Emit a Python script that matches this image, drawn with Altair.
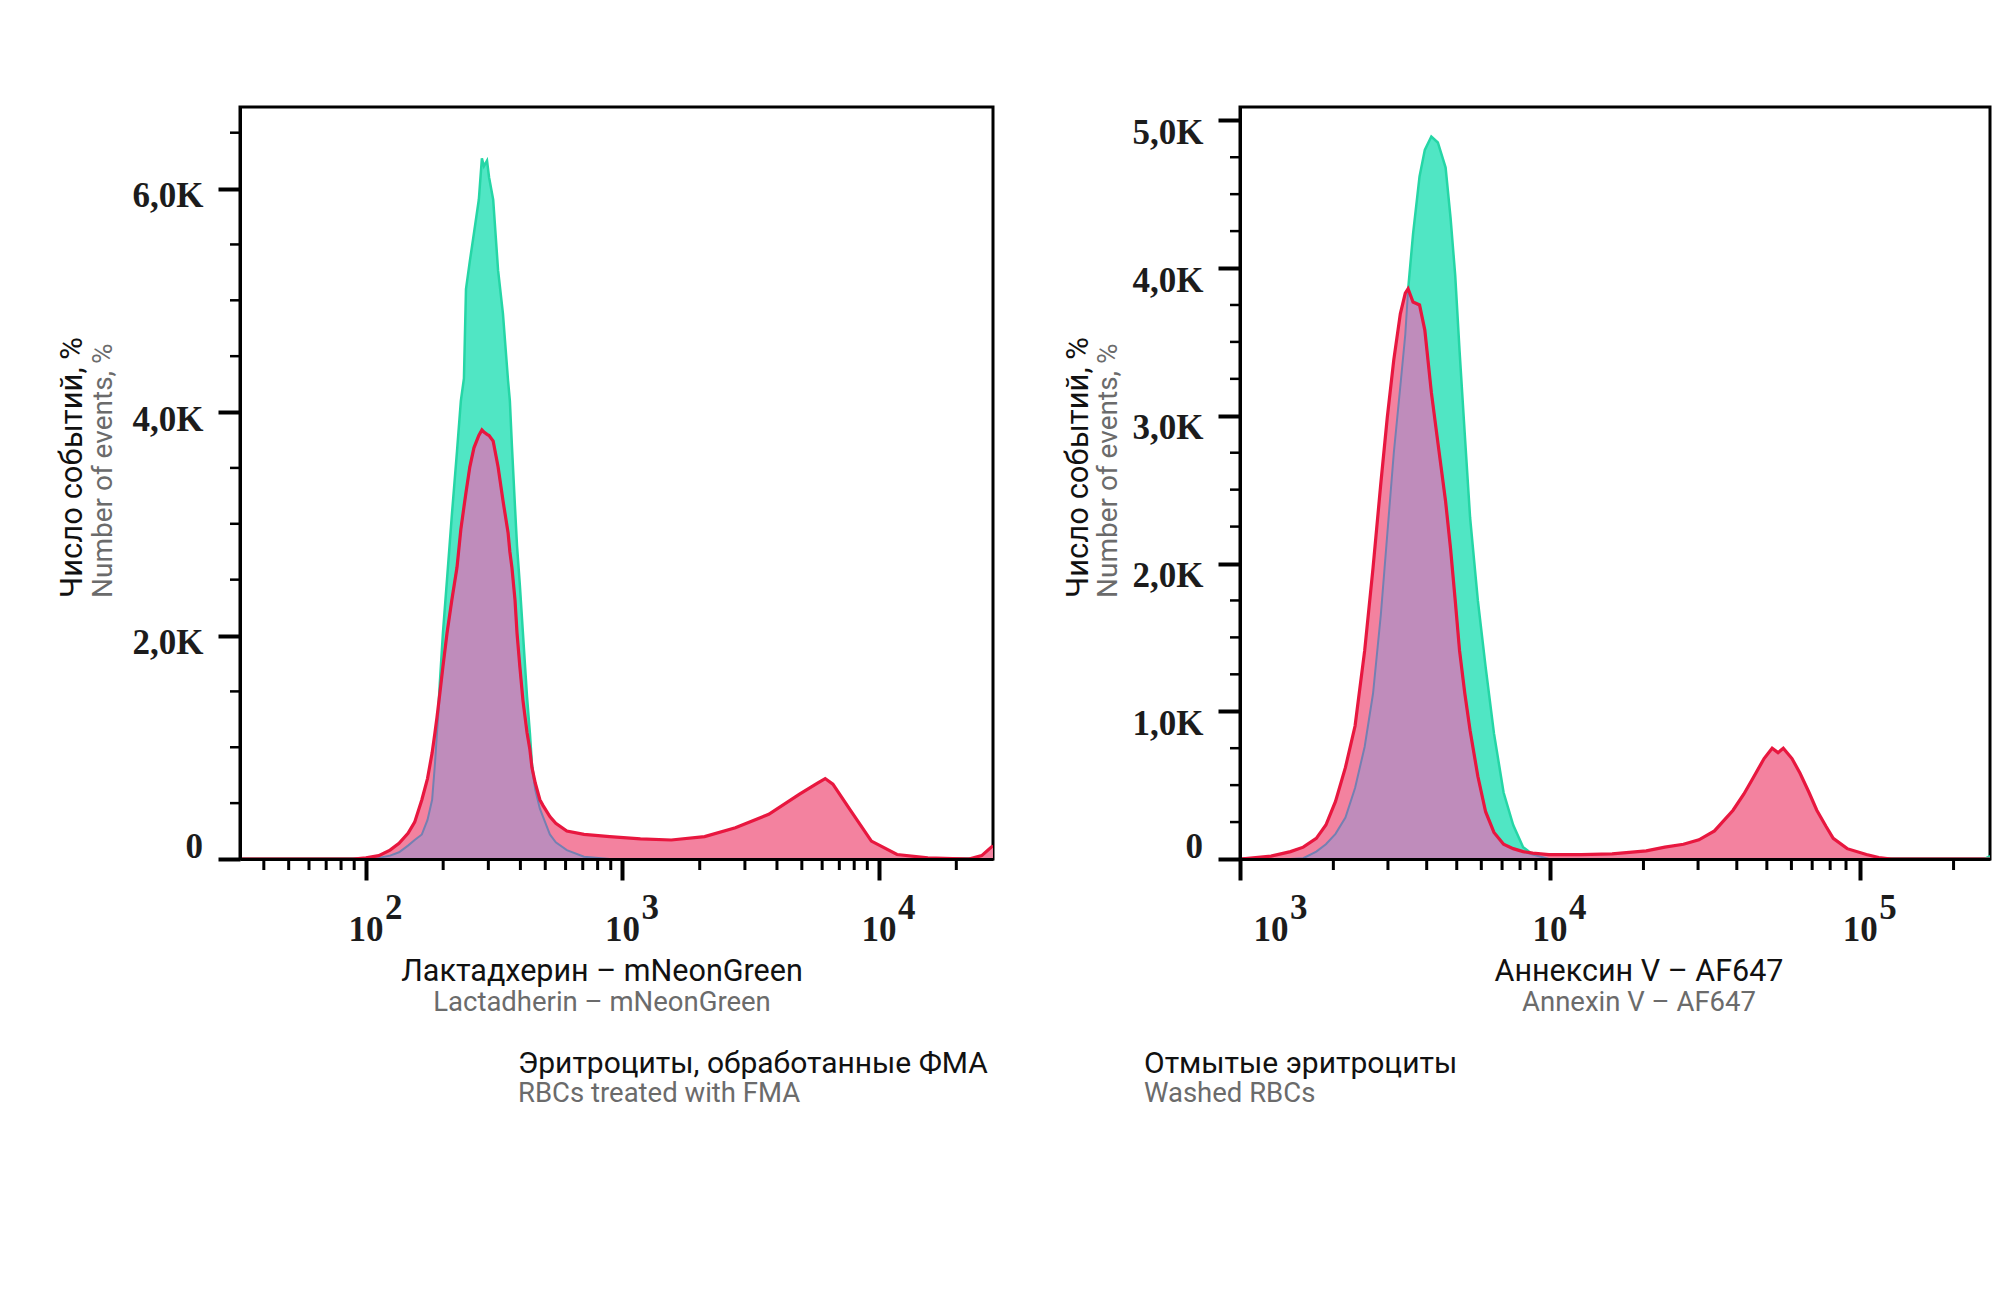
import altair as alt
import pandas as pd

# ---------------- data ----------------
# left panel: log10 of fluorescence, counts in thousands
left_logx = [1.51, 1.95, 2.00, 2.05, 2.094, 2.129, 2.164, 2.190, 2.218, 2.240, 2.258, 2.269,
             2.277, 2.288, 2.300, 2.316, 2.335, 2.355, 2.370, 2.382, 2.390, 2.405, 2.421, 2.440,
             2.452, 2.460, 2.472, 2.480, 2.496, 2.515, 2.534, 2.554, 2.561, 2.569, 2.581, 2.589,
             2.600, 2.612, 2.628, 2.639, 2.647, 2.660, 2.678, 2.690, 2.717, 2.740, 2.783, 2.85,
             2.95, 3.07, 3.19, 3.32, 3.44, 3.57, 3.69, 3.76, 3.79, 3.82, 3.89, 3.97, 4.07, 4.19,
             4.35, 4.40, 4.444]
left_green = [0, 0, 0, 0.01, 0.03, 0.06, 0.12, 0.17, 0.22, 0.35, 0.53, 0.85,
              1.13, 1.57, 2.02, 2.50, 3.08, 3.65, 4.10, 4.30, 5.10, 5.35, 5.60, 5.90,
              6.27, 6.20, 6.25, 6.10, 5.90, 5.27, 4.88, 4.28, 4.10, 3.70, 3.15, 2.80,
              2.45, 2.02, 1.45, 1.13, 0.85, 0.62, 0.45, 0.38, 0.22, 0.15, 0.08, 0.02,
              0, 0, 0, 0, 0, 0, 0, 0, 0, 0, 0, 0, 0, 0,
              0, 0, 0]
left_red = [0, 0, 0.01, 0.03, 0.08, 0.14, 0.23, 0.33, 0.53, 0.72, 0.95, 1.13,
            1.27, 1.48, 1.72, 2.02, 2.32, 2.61, 2.95, 3.15, 3.28, 3.51, 3.68, 3.79,
            3.84, 3.82, 3.80, 3.79, 3.74, 3.51, 3.21, 2.92, 2.75, 2.61, 2.32, 2.02,
            1.72, 1.42, 1.13, 0.98, 0.82, 0.68, 0.53, 0.48, 0.38, 0.32, 0.25, 0.22,
            0.20, 0.18, 0.17, 0.20, 0.28, 0.40, 0.58, 0.68, 0.72, 0.67, 0.43, 0.16, 0.04, 0.01,
            0, 0.03, 0.12]

right_logx = [3.000, 3.050, 3.100, 3.163, 3.204, 3.246, 3.277, 3.308, 3.340, 3.371, 3.402,
              3.429, 3.454, 3.475, 3.496, 3.517, 3.533, 3.542, 3.558, 3.579, 3.596, 3.617,
              3.638, 3.663, 3.679, 3.694, 3.708, 3.725, 3.742, 3.767, 3.792, 3.819, 3.850,
              3.881, 3.913, 3.944, 3.996, 4.10, 4.20, 4.31, 4.37, 4.43, 4.48, 4.53, 4.59,
              4.625, 4.655, 4.69, 4.716, 4.735, 4.752, 4.78, 4.806, 4.835, 4.86, 4.89, 4.913,
              4.958, 5.02, 5.06, 5.10, 5.40, 5.4185]
right_green = [0, 0, 0, 0, 0.005, 0.05, 0.10, 0.17, 0.28, 0.48, 0.76,
               1.12, 1.65, 2.20, 2.75, 3.20, 3.55, 3.85, 4.23, 4.62, 4.80, 4.89,
               4.85, 4.68, 4.34, 3.95, 3.44, 2.87, 2.31, 1.75, 1.30, 0.85, 0.45,
               0.23, 0.08, 0.03, 0, 0, 0, 0, 0, 0, 0, 0, 0,
               0, 0, 0, 0, 0, 0, 0, 0, 0, 0, 0, 0,
               0, 0, 0, 0, 0, 0.02]
right_red = [0, 0.01, 0.02, 0.05, 0.08, 0.14, 0.23, 0.39, 0.62, 0.90, 1.41,
             1.97, 2.54, 2.99, 3.38, 3.69, 3.83, 3.86, 3.77, 3.75, 3.58, 3.16,
             2.82, 2.42, 2.10, 1.75, 1.41, 1.12, 0.87, 0.56, 0.32, 0.18, 0.10,
             0.07, 0.05, 0.04, 0.03, 0.03, 0.035, 0.055, 0.08, 0.10, 0.13, 0.19, 0.33,
             0.44, 0.55, 0.68, 0.75, 0.72, 0.75, 0.68, 0.58, 0.45, 0.33, 0.22, 0.14,
             0.07, 0.03, 0.01, 0, 0, 0]

left_xdomain = [32.3, 27800]
right_xdomain = [1000, 262144]
left_ydomain = [0, 6.73]
right_ydomain = [0, 5.09]

# decade tick labels: base "10" plus exponent
left_decades = [100, 1000, 10000]
left_exp_text = ["2", "3", "4"]
right_decades = [10000, 100000]
right_exp_text = ["4", "5"]
right_first_decade = [1000]
right_first_text = ["3"]

left_title_ru = "Лактадхерин – mNeonGreen"
left_title_en = "Lactadherin – mNeonGreen"
right_title_ru = "Аннексин V – AF647"
right_title_en = "Annexin V – AF647"
ytitle_ru = "Число событий, %"
ytitle_en = "Number of events, %"
left_sub_ru = "Эритроциты, обработанные ФМА"
left_sub_en = "RBCs treated with FMA"
right_sub_ru = "Отмытые эритроциты"
right_sub_en = "Washed RBCs"

# ---------------- styling ----------------
GREEN_FILL = "#50E6C4"
GREEN_LINE = "#25D6A6"
PINK_FILL = "#F3829F"
MAUVE = "#BF8CBB"
SLATE = "#7480B2"
RED_LINE = "#E8173F"
SERIF = "Liberation Serif"
SANS = "Roboto"
BLACK_TXT = "#111111"
GRAY_TXT = "#6b6b6b"
LABEL_CLR = "#1c1c1c"

PW_L, PW_R, PH = 753, 750, 752
LBL_SIZE = 35


def log_ticks(lo, hi, major):
    out = []
    for k in range(0, 7):
        for m in range(1, 10):
            v = m * 10 ** k
            if lo <= v <= hi and ((m == 1) == major):
                out.append(v)
    return out


def text_layer(txt, x, y, size, color, align="center", angle=0):
    kw = dict(font=SANS, fontSize=size, color=color, align=align, baseline="middle")
    if angle:
        kw["angle"] = angle
    return alt.Chart(pd.DataFrame({"t": [txt]})).mark_text(**kw).encode(
        x=alt.value(x), y=alt.value(y), text="t:N")


def panel(logx, g, r, xdom, ydom, ystep, ymaj, pw, first_shift,
          decs, exp_txt, first_decs, first_txt,
          t_ru, t_en, t_x, s_ru, s_en, s_x, yt_ru_x, yt_en_x, lab_off):
    df = pd.DataFrame({"x": [10 ** v for v in logx], "g": g, "r": r})
    base = alt.Chart(df).transform_calculate(ov="min(datum.g, datum.r)")
    xs = alt.Scale(type="log", domain=xdom, nice=False)
    ys = alt.Scale(domain=ydom, nice=False, zero=True)

    n = int(ydom[1] / ystep + 1e-9)
    all_y = [round(i * ystep, 4) for i in range(n + 1)]
    y_major = [v for v in all_y if abs(v / ymaj - round(v / ymaj)) < 1e-6]
    y_minor = [v for v in all_y if v not in y_major]

    xaxis = alt.Axis(values=log_ticks(xdom[0], xdom[1], True), labels=False,
                     tickSize=21, tickWidth=4, grid=False, title=None, zindex=1)
    yaxis = alt.Axis(values=y_major,
                     labelExpr="datum.value == 0 ? '' : replace(format(datum.value, '.1f'), '.', ',') + 'K'",
                     tickSize=22, tickWidth=4, labelPadding=15, labelOffset=lab_off,
                     labelOverlap=False, grid=False, title=None, zindex=1)

    def X(field):
        return alt.X(field, type="quantitative", scale=xs, axis=xaxis)

    def Y(field):
        return alt.Y(field, type="quantitative", scale=ys, axis=yaxis)

    g_area = base.mark_area(color=GREEN_FILL, clip=True).encode(x=X("x"), y=Y("g"))
    g_line = base.mark_line(color=GREEN_LINE, strokeWidth=2.5, clip=True).encode(x=X("x"), y=Y("g"))
    r_area = base.mark_area(color=PINK_FILL, clip=True).encode(x=X("x"), y=Y("r"))
    o_area = base.mark_area(color=MAUVE, clip=True).encode(x=X("x"), y=Y("ov"))
    o_line = base.mark_line(color=SLATE, strokeWidth=2, clip=True).encode(x=X("x"), y=Y("ov"))
    r_line = base.mark_line(color=RED_LINE, strokeWidth=3.2, clip=True).encode(x=X("x"), y=Y("r"))

    # minor ticks
    x_minor = alt.Chart(pd.DataFrame({"v": log_ticks(xdom[0], xdom[1], False)})).mark_rule(
        color="black", strokeWidth=3).encode(
        x=X("v"), y=alt.value(PH), y2=alt.value(PH + 11))
    y_minor_l = alt.Chart(pd.DataFrame({"v": y_minor})).mark_rule(
        color="black", strokeWidth=2.5).encode(
        y=Y("v"), x=alt.value(0), x2=alt.value(-10))
    zero_lbl = alt.Chart(pd.DataFrame({"v": [0.0], "t": ["0"]})).mark_text(
        font=SERIF, fontWeight="bold", fontSize=LBL_SIZE, color=LABEL_CLR,
        align="right", baseline="middle", dy=-12).encode(
        y=Y("v"), x=alt.value(-37), text="t:N")

    def decade_layer(vals, txts, dx, y, align):
        return alt.Chart(pd.DataFrame({"x": vals, "e": txts})).mark_text(
            font=SERIF, fontWeight="bold", fontSize=LBL_SIZE, color=LABEL_CLR,
            align=align, baseline="top", dx=dx
        ).encode(x=X("x"), y=alt.value(y), text="e:N")

    layers = [g_area, g_line, r_area, o_area, o_line, r_line, x_minor, y_minor_l, zero_lbl,
              decade_layer(decs, ["10"] * len(decs), 0, PH + 54, "center"),
              decade_layer(decs, exp_txt, 19, PH + 32, "left")]
    if first_decs:
        layers += [decade_layer(first_decs, ["10"] * len(first_decs), first_shift, PH + 54, "center"),
                   decade_layer(first_decs, first_txt, 19 + first_shift, PH + 32, "left")]
    layers += [
        text_layer(t_ru, t_x, 865, 30.5, BLACK_TXT),
        text_layer(t_en, t_x, 896, 27.5, GRAY_TXT),
        text_layer(s_ru, s_x, 957, 30, BLACK_TXT, align="left"),
        text_layer(s_en, s_x, 987, 27.5, GRAY_TXT, align="left"),
        text_layer(ytitle_ru, yt_ru_x, 491, 31, BLACK_TXT, align="left", angle=270),
        text_layer(ytitle_en, yt_en_x, 491, 28, GRAY_TXT, align="left", angle=270),
    ]
    return alt.layer(*layers).properties(width=pw, height=PH)


left = panel(left_logx, left_green, left_red, left_xdomain, left_ydomain, 0.5, 2, PW_L, 0,
             left_decades, left_exp_text, [], [],
             left_title_ru, left_title_en, 362, left_sub_ru, left_sub_en, 278, -167, -136, 7)
right = panel(right_logx, right_green, right_red, right_xdomain, right_ydomain, 0.25, 1, PW_R, 31,
              right_decades, right_exp_text, right_first_decade, right_first_text,
              right_title_ru, right_title_en, 399, right_sub_ru, right_sub_en, -96, -161, -131, 12)

chart = alt.hconcat(left, right, spacing=247, bounds="flush").properties(
    padding={"left": 47, "top": 97, "right": 5, "bottom": 5}
).configure_view(
    stroke="black", strokeWidth=3
).configure_axis(
    domainColor="black", domainWidth=3, tickColor="black",
    labelColor=LABEL_CLR, labelFont=SERIF, labelFontSize=LBL_SIZE, labelFontWeight="bold",
    grid=False
)

chart.save("out.html", embed_options={"renderer": "svg", "actions": False})
